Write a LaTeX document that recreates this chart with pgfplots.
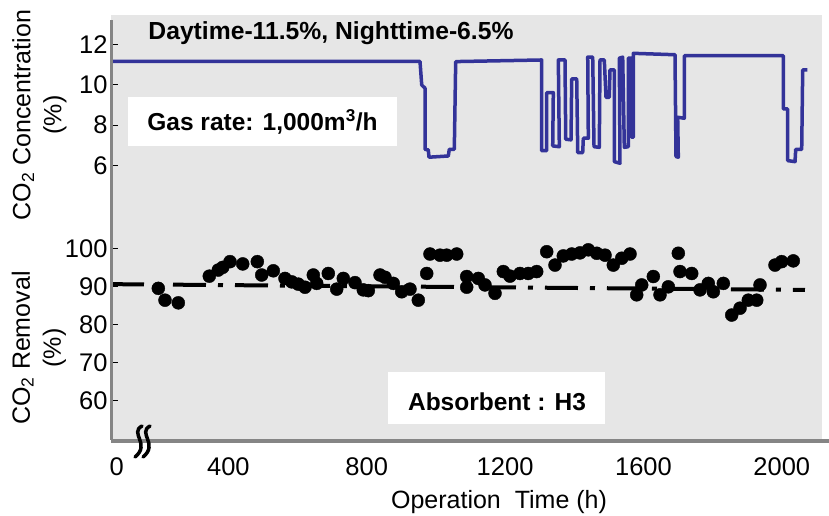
\documentclass[border=0pt]{standalone}
\usepackage{fontspec}
\setmainfont{Liberation Sans}
\usepackage{pgfplots}
\pgfplotsset{compat=1.18}
\definecolor{bg}{HTML}{E6E6E6}
\definecolor{lineblue}{HTML}{333399}
\definecolor{axgray}{HTML}{858585}

\pgfplotstableread{
h c
60.7 11.15
954.0 11.15
959.0 9.98
968.5 9.82
968.5 6.79
978.0 6.76
980.1 6.40
1035.9 6.46
1038.7 6.79
1053.2 6.79
1057.2 11.14
1305.9 11.22
1305.9 6.72
1320.3 6.72
1320.3 9.60
1339.4 9.60
1337.7 6.96
1356.8 6.92
1353.9 11.22
1373.2 11.22
1375.3 7.29
1390.6 7.26
1392.6 10.28
1407.1 10.28
1410.0 6.63
1424.4 6.63
1426.2 7.34
1440.6 7.34
1438.9 11.36
1453.3 11.36
1457.1 6.92
1472.4 6.89
1474.4 11.22
1486.8 11.22
1491.8 9.37
1501.3 9.37
1503.3 10.73
1515.8 10.73
1515.8 6.18
1532.2 6.10
1530.2 11.31
1540.0 11.36
1544.7 6.89
1556.2 6.92
1556.2 11.31
1566.0 11.31
1566.0 7.39
1570.7 7.39
1570.7 11.55
1691.2 11.48
1694.1 6.43
1700.8 6.40
1699.0 8.38
1718.1 8.33
1718.1 11.43
2004.3 11.43
2004.3 8.79
2017.1 8.79
2017.1 6.23
2038.2 6.18
2040.2 6.79
2057.5 6.79
2060.4 10.73
2073.7 10.73
}\conc

\pgfplotstableread{
h r
197.5 89.5
216.8 86.4
255.3 85.7
344.9 92.7
370.9 94.3
383.6 95.0
404.7 96.5
441.5 95.9
483.7 96.5
496.4 93.0
529.9 94.1
563.7 92.1
583.1 91.2
602.2 90.6
621.6 89.8
645.6 93.0
655.4 90.8
688.9 93.4
713.2 89.3
732.3 92.1
766.1 91.0
790.1 89.1
804.6 88.9
838.4 93.0
852.8 92.4
876.8 90.8
901.1 88.6
925.1 89.3
949.1 86.4
973.4 93.4
982.9 98.5
1011.8 98.2
1031.2 98.2
1060.1 98.5
1089.0 92.6
1089.0 89.8
1122.6 92.1
1141.9 90.4
1170.9 88.2
1194.9 93.9
1214.2 92.7
1243.1 93.4
1267.1 93.4
1291.4 93.9
1320.3 99.1
1344.3 95.6
1368.3 98.0
1392.6 98.5
1416.6 98.8
1440.6 99.6
1464.9 98.7
1488.9 98.2
1512.9 95.6
1537.2 97.4
1561.2 98.5
1580.5 87.8
1595.0 90.4
1628.5 92.6
1647.9 87.8
1671.9 89.9
1700.8 98.7
1705.7 93.9
1739.5 93.4
1763.5 89.1
1787.5 90.8
1802.0 88.6
1830.9 90.8
1855.2 82.5
1879.2 84.3
1903.2 86.4
1927.5 86.4
1937.0 90.4
1980.3 95.6
1999.7 96.5
2033.2 96.7
}\removal

\pgfplotstableread{
h r
60.7 90.6
2067 89.1
}\trend

\begin{document}
\begin{tikzpicture}[x=1pt,y=1pt]
\useasboundingbox (-111,-76) rectangle (718,440);
% removal axis (with background and x ticks)
\begin{axis}[
  at={(0,0)}, anchor=south west,
  scale only axis, width=711pt, height=425pt,
  xmin=60.7, xmax=2116.2, ymin=49.74, ymax=161.17,
  axis background/.style={fill=bg},
  axis line style={draw=none},
  xtick={77.2,400,800,1200,1600,2000},
  xticklabels={0,400,800,1200,1600,2000},
  xtick pos=bottom,
  x tick style={draw=none},
  xticklabel style={yshift=-14pt},
  ytick={50,60,70,80,90,100},
  yticklabels={,60,70,80,90,100},
  ytick pos=left,
  tick align=inside,
  major tick length=7pt,
  y tick style={black, line width=0.8pt},
  ticklabel style={font=\fontsize{25.5}{25.5}\selectfont},
  /pgf/number format/assume math mode=true,
]
\addplot[black, line width=4pt, dash pattern=on 33pt off 12pt on 5pt off 12pt] table[x=h,y=r] {\trend};
\addplot[only marks, mark=*, mark size=6.5pt, black] table[x=h,y=r] {\removal};
\end{axis}
% concentration axis
\begin{axis}[
  at={(0,0)}, anchor=south west,
  scale only axis, width=711pt, height=425pt,
  xmin=60.7, xmax=2116.2, ymin=-7.62, ymax=13.45,
  axis line style={draw=none},
  xtick=\empty,
  ytick={6,8,10,12},
  ytick pos=left,
  tick align=inside,
  major tick length=7pt,
  y tick style={black, line width=0.8pt},
  ticklabel style={font=\fontsize{25.5}{25.5}\selectfont},
  /pgf/number format/assume math mode=true,
]
\addplot[lineblue, line width=3.5pt, line join=round] table[x=h,y=c] {\conc};
\end{axis}
% axis lines
\draw[axgray, line width=3.5pt] (0.5,0) -- (0.5,420);
\draw[axgray, line width=4pt] (0,-1) -- (718,-1);
% break symbol
\fill[bg] (20,1) rectangle (46,14);
\draw[black, line width=3.5pt, line cap=round] (31,14) .. controls (18,7) and (40,-4) .. (24,-17);
\draw[black, line width=3.5pt, line cap=round] (39,14) .. controls (26,7) and (48,-4) .. (32,-17);
% annotation boxes
\fill[white] (17,294) rectangle (286,343);
\node[font=\bfseries\fontsize{24.5}{24.5}\selectfont] at (151.5,318.5) {Gas rate: 1,000m\textsuperscript{3}/h};
\fill[white] (277,16) rectangle (494,68);
\node[font=\bfseries\fontsize{24.5}{24.5}\selectfont] at (386,38) {Absorbent : H3};
\node[font=\bfseries\fontsize{24.7}{24.7}\selectfont] at (220,407) {Daytime-11.5\%, Nighttime-6.5\%};
% axis labels
\node[rotate=90, align=center, font=\fontsize{25}{31}\selectfont] at (-71.5,325) {CO\textsubscript{2} Concentration\\(\%)};
\node[rotate=90, align=center, font=\fontsize{25}{31}\selectfont] at (-72,92) {CO\textsubscript{2} Removal\\(\%)};
\node[font=\fontsize{25}{25}\selectfont] at (388,-62) {Operation\ \ Time (h)};
\end{tikzpicture}
\end{document}
